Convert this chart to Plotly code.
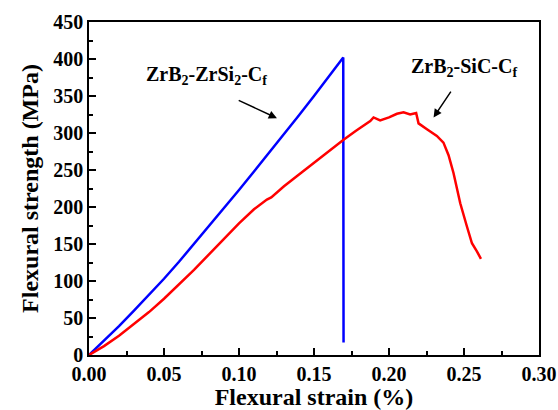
import plotly.graph_objects as go

# Flexural stress-strain curves of the two composites
zrsi2_strain = [0.0, 0.0100, 0.0200, 0.0300, 0.0400, 0.0500, 0.0600, 0.0700,
                0.0800, 0.0900, 0.1000, 0.1100, 0.1200, 0.1300, 0.1400,
                0.1500, 0.1600, 0.1695, 0.1697]
zrsi2_stress = [0, 19, 39, 60, 81, 103, 126, 150, 174, 198, 223, 248, 273,
                298, 324, 350, 376, 402, 17]

sic_strain = [0.0, 0.0100, 0.0200, 0.0300, 0.0400, 0.0500, 0.0600, 0.0700,
              0.0800, 0.0900, 0.1000, 0.1100, 0.1186, 0.1215, 0.1300, 0.1400,
              0.1500, 0.1608, 0.1697, 0.1780, 0.1875, 0.1897, 0.1941, 0.2000,
              0.2053, 0.2097, 0.2141, 0.2181, 0.2197, 0.2253, 0.2319, 0.2363,
              0.2397, 0.2430, 0.2475, 0.2519, 0.2553, 0.2586, 0.2613]
sic_stress = [0, 12, 26, 42, 58, 76, 95, 115, 136, 157, 178, 197, 210, 213,
              228, 244, 260, 277, 291, 303, 316, 321, 317, 321, 326, 328, 325,
              327, 313, 305, 296, 287, 270, 246, 205, 174, 151, 140, 130]

x_ticks = [0.00, 0.05, 0.10, 0.15, 0.20, 0.25, 0.30]
y_ticks = [0, 50, 100, 150, 200, 250, 300, 350, 400, 450]

FONT = "Liberation Serif"

fig = go.Figure()
fig.add_trace(go.Scatter(x=zrsi2_strain, y=zrsi2_stress, mode="lines",
                         line=dict(color="#0000ff", width=2.5),
                         name="ZrB2-ZrSi2-Cf"))
fig.add_trace(go.Scatter(x=sic_strain, y=sic_stress, mode="lines",
                         line=dict(color="#ff0000", width=2.5),
                         name="ZrB2-SiC-Cf"))

axis_common = dict(
    showgrid=False, zeroline=False, showline=True, linecolor="black",
    linewidth=1.5, mirror=True, ticks="inside", ticklen=7, tickwidth=1.5,
    tickcolor="black", automargin=False,
    tickfont=dict(family=FONT, size=20, color="black", weight="bold"),
)

fig.update_xaxes(range=[0, 0.30], tickvals=x_ticks,
                 ticktext=[f"{v:.2f}" for v in x_ticks],
                 minor=dict(dtick=0.025, ticks="inside", ticklen=4,
                            tickwidth=1.5, tickcolor="black"),
                 title=dict(text="Flexural strain (%)", standoff=6,
                            font=dict(family=FONT, size=24, color="black",
                                      weight="bold")),
                 **axis_common)
fig.update_yaxes(range=[0, 450], tickvals=y_ticks,
                 minor=dict(dtick=25, ticks="inside", ticklen=4,
                            tickwidth=1.5, tickcolor="black"),
                 title=dict(text="Flexural strength (MPa)", standoff=8,
                            font=dict(family=FONT, size=24, color="black",
                                      weight="bold")),
                 **axis_common)

label_font = dict(family=FONT, size=20, color="black", weight="bold")
fig.add_annotation(x=0.0781, y=378, xref="x", yref="y", showarrow=False,
                   text="ZrB<sub>2</sub>-ZrSi<sub>2</sub>-C<sub>f</sub>",
                   font=label_font)
fig.add_annotation(x=0.2501, y=388, xref="x", yref="y", showarrow=False,
                   text="ZrB<sub>2</sub>-SiC-C<sub>f</sub>",
                   font=label_font)

# pointer arrows
fig.add_annotation(x=0.1253, y=320, ax=0.0988, ay=345, xref="x", yref="y",
                   axref="x", ayref="y", text="", showarrow=True,
                   arrowhead=2, arrowsize=1.1, arrowwidth=1.5,
                   arrowcolor="black")
fig.add_annotation(x=0.2297, y=321, ax=0.2419, ay=358, xref="x", yref="y",
                   axref="x", ayref="y", text="", showarrow=True,
                   arrowhead=2, arrowsize=1.1, arrowwidth=1.5,
                   arrowcolor="black")

fig.update_layout(
    width=558, height=410,
    margin=dict(l=89, r=19, t=22, b=55),
    paper_bgcolor="white", plot_bgcolor="white",
    showlegend=False,
    font=dict(family=FONT, color="black"),
)

fig.write_html("out.html")
